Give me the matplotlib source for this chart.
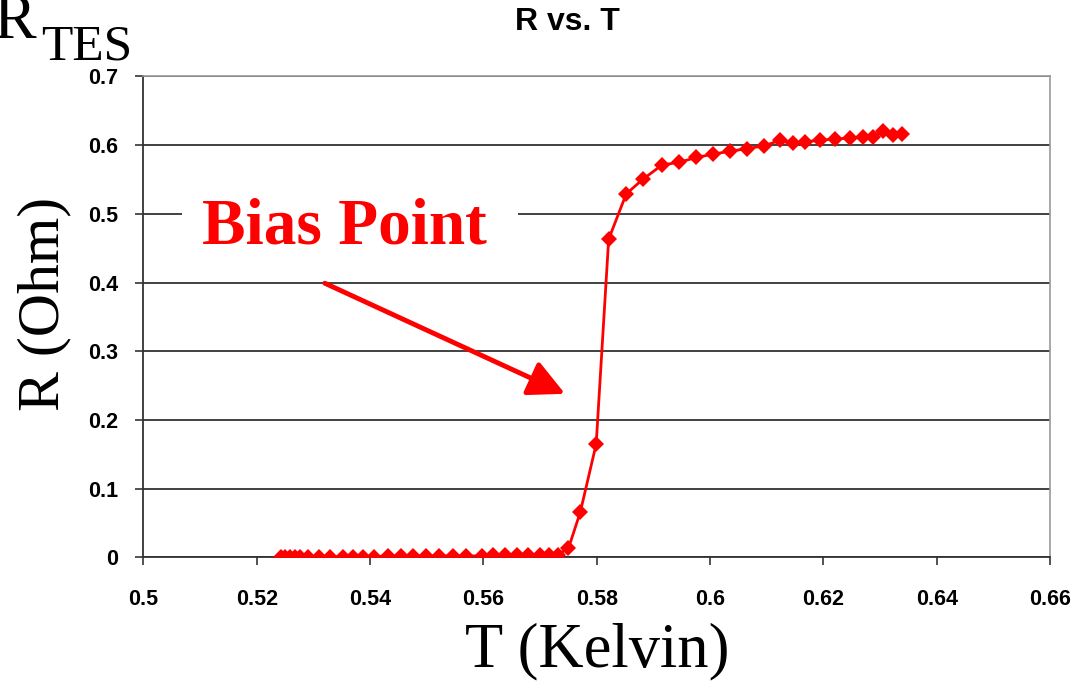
import matplotlib
matplotlib.use("Agg")
import matplotlib.pyplot as plt
from matplotlib.patches import Rectangle

T_kelvin = [0.5242, 0.5250, 0.5259, 0.5267, 0.5277, 0.5291, 0.5310, 0.5330, 0.5353,
            0.5370, 0.5387, 0.5407, 0.5432, 0.5454, 0.5475, 0.5498, 0.5521, 0.5547,
            0.5569, 0.5597, 0.5616, 0.5638, 0.5659, 0.5679, 0.5699, 0.5716, 0.5731,
            0.5750, 0.5771, 0.5799, 0.5821, 0.5852, 0.5881, 0.5915, 0.5945, 0.5976,
            0.6006, 0.6035, 0.6066, 0.6096, 0.6123, 0.6147, 0.6168, 0.6194, 0.6221,
            0.6247, 0.6270, 0.6288, 0.6306, 0.6322, 0.6339]
R_ohm = [0.000, 0.000, 0.000, 0.000, 0.000, 0.000, 0.000, 0.001, 0.001,
         0.001, 0.001, 0.001, 0.002, 0.002, 0.002, 0.002, 0.002, 0.002,
         0.002, 0.002, 0.003, 0.003, 0.003, 0.003, 0.003, 0.004, 0.004,
         0.013, 0.066, 0.165, 0.463, 0.529, 0.550, 0.571, 0.575, 0.582,
         0.587, 0.591, 0.595, 0.599, 0.607, 0.603, 0.605, 0.607, 0.609,
         0.610, 0.612, 0.612, 0.620, 0.614, 0.616]

x_ticks = [0.5, 0.52, 0.54, 0.56, 0.58, 0.6, 0.62, 0.64, 0.66]
x_tick_labels = ["0.5", "0.52", "0.54", "0.56", "0.58", "0.6", "0.62", "0.64", "0.66"]
y_ticks = [0, 0.1, 0.2, 0.3, 0.4, 0.5, 0.6, 0.7]
y_tick_labels = ["0", "0.1", "0.2", "0.3", "0.4", "0.5", "0.6", "0.7"]

serif = ["Liberation Serif", "DejaVu Serif"]
sans = ["Liberation Sans", "DejaVu Sans"]

fig = plt.figure(figsize=(10.77, 6.84), dpi=100)
ax = fig.add_axes([0.1332, 0.1852, 0.975 - 0.1332, 0.8883 - 0.1852])

ax.set_xlim(0.5, 0.66)
ax.set_ylim(0, 0.7)
ax.set_xticks(x_ticks)
ax.set_xticklabels(x_tick_labels, fontfamily=sans, fontweight="bold", fontsize=15.5)
ax.set_yticks(y_ticks)
ax.set_yticklabels(y_tick_labels, fontfamily=sans, fontweight="bold", fontsize=15.5)
ax.tick_params(axis="x", direction="out", length=6, width=1.2, pad=16.5, color="#333333")
ax.tick_params(axis="y", direction="out", length=6, width=1.2, pad=12, color="#333333")

ax.yaxis.grid(True, color="#333333", linewidth=1.3)
ax.set_axisbelow(True)
for s in ["top", "right"]:
    ax.spines[s].set_color("#999999")
    ax.spines[s].set_linewidth(1.2)
for s in ["left", "bottom"]:
    ax.spines[s].set_color("#333333")
    ax.spines[s].set_linewidth(1.3)

ax.plot(T_kelvin, R_ohm, color="#ff0000", linewidth=2, marker="D",
        markersize=8, markeredgewidth=0, zorder=3)

ax.set_xlabel("T (Kelvin)", fontfamily=serif, fontsize=45)
ax.xaxis.set_label_coords(0.5, -0.135)
ax.set_ylabel("R (Ohm)", fontfamily=serif, fontsize=43)
ax.yaxis.set_label_coords(-0.079, 0.527)

fig.text(567 / 1077, 1 - 22 / 684, "R vs. T", fontfamily=sans, fontweight="bold",
         fontsize=23, ha="center", va="center")

fig.text(36 / 1077, 1 - 38 / 684, "R", fontfamily=serif, fontsize=46,
         ha="right", va="baseline")
fig.text(41 / 1077, 1 - 59 / 684, "TES", fontfamily=serif, fontsize=37,
         ha="left", va="baseline")

# white gap in the gridline behind the annotation text
ax.add_patch(Rectangle((0.5068, 0.47), 0.0593, 0.06, facecolor="white",
                       edgecolor="none", zorder=2))
ax.text(0.5103, 0.4575, "Bias Point", fontfamily=serif, fontweight="bold",
        fontsize=47, color="#ff0000", ha="left", va="baseline", zorder=4)

ax.annotate("", xy=(0.5744, 0.238), xytext=(0.5320, 0.399),
            arrowprops=dict(arrowstyle="-|>,head_length=2.2,head_width=1.1",
                            color="#ff0000", linewidth=3.5, shrinkA=0, shrinkB=0),
            zorder=4)

fig.savefig("out.png", dpi=100, facecolor="white")
